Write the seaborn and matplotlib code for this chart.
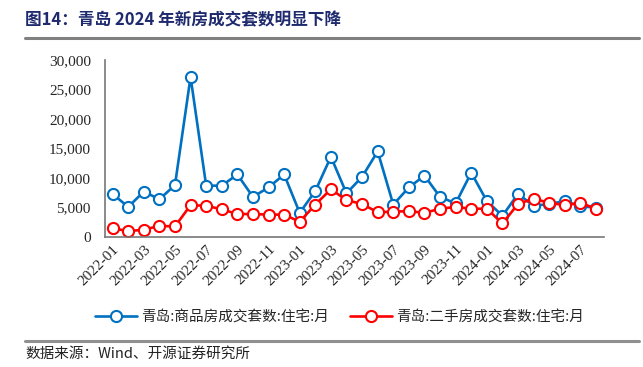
import numpy as np
import pandas as pd
import matplotlib
matplotlib.use("Agg")
import matplotlib.pyplot as plt
import seaborn as sns

# data (monthly, 2022-01 .. 2024-08)
months = pd.period_range("2022-01", "2024-08", freq="M").strftime("%Y-%m").tolist()
new_homes = [7300, 5100, 7700, 6400, 8800, 27100, 8700, 8700, 10600, 6800, 8400, 10600,
             4100, 7800, 13600, 7400, 10200, 14500, 5500, 8400, 10400, 6800, 5700, 10900,
             6100, 3600, 7300, 5300, 5600, 6100, 5200, 5000]
second_hand = [1500, 1000, 1250, 1900, 1800, 5400, 5300, 4700, 3900, 3900, 3800, 3800,
               2600, 5500, 8100, 6250, 5600, 4200, 4300, 4400, 4100, 4800, 5100, 4800,
               4800, 2300, 5600, 6500, 5800, 5400, 5800, 4800]
series_names = ["青岛:商品房成交套数:住宅:月", "青岛:二手房成交套数:住宅:月"]
series_colors = ["#0070C0", "#FF0000"]

sns.set_style("white")
plt.rcParams["font.family"] = ["Liberation Serif", "Noto Sans CJK SC"]
serif = ["Liberation Serif"]
cjk = ["Noto Sans CJK SC"]

df = pd.DataFrame({"pos": np.arange(len(months)), "month": months,
                   "new": new_homes, "second": second_hand})

fig = plt.figure(figsize=(6.43, 3.67), dpi=100)
ax = fig.add_axes([0.163, 0.354, 0.776, 0.483])

for col, name, color in zip(["new", "second"], series_names, series_colors):
    sns.lineplot(data=df, x="pos", y=col, ax=ax, color=color, linewidth=1.9,
                 marker="o", markersize=8, markerfacecolor="white",
                 markeredgecolor=color, markeredgewidth=1.5, label=name)

ax.set_xlim(-0.5, len(months) - 0.5)
ax.set_ylim(0, 30000)
ax.set_yticks(range(0, 30001, 5000))
ax.set_yticklabels([f"{v:,}" for v in range(0, 30001, 5000)], fontsize=11, family=serif)
ax.set_xticks(df["pos"][::2])
ax.set_xticklabels(df["month"][::2], rotation=45, ha="right", rotation_mode="anchor",
                   fontsize=11, family=serif)
ax.set_xticks(np.arange(-0.5, len(months), 2), minor=True)
ax.tick_params(axis="x", which="major", length=0, pad=4)
ax.tick_params(axis="x", which="minor", direction="in", length=4, color="#555555")
ax.tick_params(axis="y", direction="out", length=4, color="#555555", pad=6)
ax.set_xlabel("")
ax.set_ylabel("")
sns.despine(ax=ax)
for s in ["left", "bottom"]:
    ax.spines[s].set_color("#777777")
    ax.spines[s].set_linewidth(1.2)

leg = ax.legend(loc="upper center", bbox_to_anchor=(0.47, -0.34), ncol=2, frameon=False,
                prop={"family": cjk, "size": 10.5}, columnspacing=1.4,
                handlelength=2.9, handletextpad=0.3)

# header and footer
fig.text(0.039, 0.945, "图14：青岛 2024 年新房成交套数明显下降", fontsize=12, fontweight="bold",
         color="#1F2A6E", family=cjk, va="center")
fig.add_artist(plt.Line2D([0.039, 0.994], [0.897, 0.897], color="#808080", linewidth=2.2))
fig.add_artist(plt.Line2D([0.039, 0.994], [0.071, 0.071], color="#909090", linewidth=2.2))
fig.text(0.039, 0.037, "数据来源：Wind、开源证券研究所", fontsize=10.5, color="#222222",
         family=cjk, va="center")

fig.savefig("out.png", dpi=100)
